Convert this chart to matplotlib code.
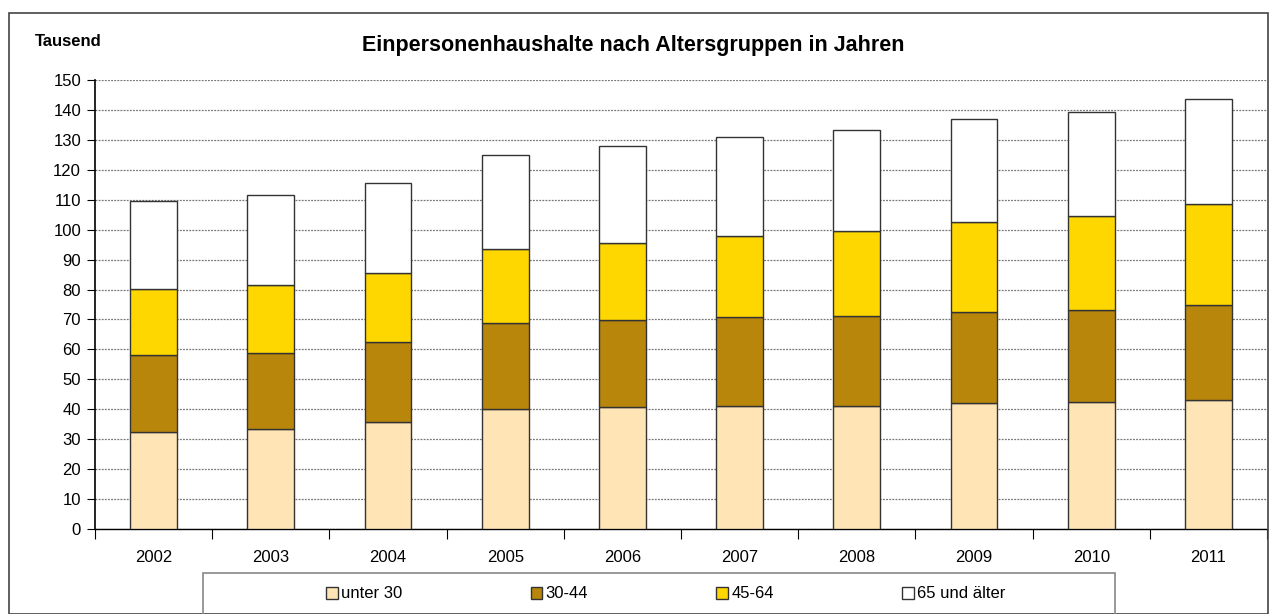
import matplotlib.pyplot as plt
from matplotlib.patches import Rectangle
import numpy as np

plt.rcParams['font.family'] = ['Liberation Sans Narrow', 'Liberation Sans', 'DejaVu Sans']

years = ['2002', '2003', '2004', '2005', '2006', '2007', '2008', '2009', '2010', '2011']
unter_30 = [32.5, 33.5, 35.8, 40.1, 40.8, 41.2, 41.2, 42.1, 42.5, 43.2]
a30_44 = [25.5, 25.4, 26.7, 28.7, 28.9, 29.7, 29.9, 30.4, 30.7, 31.7]
a45_64 = [22.2, 22.6, 23.0, 24.8, 26.0, 27.0, 28.5, 30.1, 31.5, 33.7]
a65_plus = [29.3, 30.1, 30.1, 31.2, 32.2, 33.1, 33.8, 34.4, 34.7, 34.9]

series = [
    ('unter 30', unter_30, '#FFE4B5'),
    ('30-44', a30_44, '#B8860B'),
    ('45-64', a45_64, '#FFD700'),
    ('65 und älter', a65_plus, '#FFFFFF'),
]

W, H = 1271, 614
fig = plt.figure(figsize=(W / 100, H / 100), dpi=100)
ax = fig.add_axes([95 / W, 1 - 529 / H, (1267 - 95) / W, (529 - 80) / H])

x = np.arange(len(years))
bottom = np.zeros(len(years))
handles = []
for label, vals, color in series:
    b = ax.bar(x, vals, width=0.4, bottom=bottom, color=color,
               edgecolor='#333333', linewidth=1.0, label=label, zorder=3)
    handles.append(b)
    bottom += np.array(vals)

ax.set_xlim(-0.5, len(years) - 0.5)
ax.set_ylim(0, 150)
ax.set_yticks(range(0, 151, 10))
ax.tick_params(axis='y', labelsize=12, length=6, direction='out', pad=4)
ax.yaxis.grid(True, linestyle=(0, (1.5, 1)), color='#777777', linewidth=0.9, zorder=0)

# x ticks at category boundaries, labels centred under bars
ax.set_xticks(np.arange(-0.5, len(years)), minor=False)
ax.set_xticklabels([])
ax.set_xticks(x, minor=True)
ax.set_xticklabels(years, minor=True)
ax.tick_params(axis='x', which='major', length=7, direction='out')
ax.tick_params(axis='x', which='minor', length=0, labelsize=12, pad=15)

for s in ['top', 'right']:
    ax.spines[s].set_visible(False)
ax.spines['left'].set_linewidth(1.2)
ax.spines['bottom'].set_linewidth(1.0)

fig.text(35 / W, 1 - 42 / H, 'Tausend', fontsize=12, fontweight='bold', va='center', ha='left')
fig.text(633 / W, 1 - 45 / H, 'Einpersonenhaushalte nach Altersgruppen in Jahren',
         fontsize=15.5, fontweight='bold', va='center', ha='center')

# outer frame and legend box
fig.patches.append(Rectangle((9 / W, 0), (1268 - 9) / W, 1 - 13 / H, transform=fig.transFigure,
                             fill=False, edgecolor='#444444', linewidth=1.2))
fig.patches.append(Rectangle((203 / W, -0.05), (1115 - 203) / W, 0.05 + 1 - 573 / H,
                             transform=fig.transFigure, fill=False, edgecolor='#888888', linewidth=1.2))

fig.legend(handles=handles, loc='center left', ncol=4, frameon=False,
           bbox_to_anchor=(326 / W, 1 - 594 / H), fontsize=12,
           handlelength=0.7, handleheight=0.7, handletextpad=0.2, columnspacing=7.7,
           borderaxespad=0, borderpad=0)

fig.savefig('out.png', dpi=100)
